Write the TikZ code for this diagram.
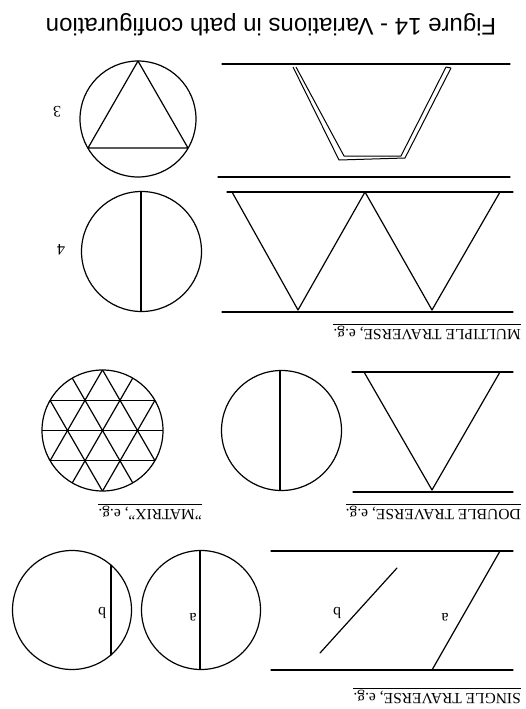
\documentclass[tikz,border=0pt]{standalone}
\usepackage{fontspec}
\setmainfont{Liberation Serif}
\newfontfamily\titlefont{Liberation Sans}

\tikzset{
  trav/.style={line width=1.2pt, line cap=round, line join=round},
  updown/.style={rotate=180, inner sep=0pt},
  caption/.style={updown, anchor=west, inner ysep=1.5pt, font=\fontsize{15.5}{16}\selectfont},
  tag/.style={updown, font=\fontsize{16}{16}\selectfont}
}

\begin{document}
\begin{tikzpicture}[x=1pt, y=-1pt]
    \useasboundingbox (0,0) rectangle (526,709);

    % title
    \node[updown, font=\titlefont\fontsize{24}{24}\selectfont] (title) at (271,25) {Figure 14 - Variations in path configuration};

    % multiple traverse, 3
    \draw[trav] (222,64) -- (510,64);
    \draw[trav] (218,177) -- (510,177);
    \draw[line width=1pt, line join=round] (293,67) -- (339,160) -- (405,158) -- (451,68);
    \draw[line width=1pt, line join=round] (296,67) -- (344,156) -- (401,156) -- (446,67);
    \draw[line width=1pt] (446,67) -- (451,68);
    \draw[trav] (138,119) circle (58);
    \draw[trav] (138,61) -- (88,148) -- (188,148) -- cycle;
    \node[tag] (three) at (57,112) {3};

    % multiple traverse, 4
    \draw[trav] (227,192) -- (513,192);
    \draw[trav] (222,312) -- (513,312);
    \draw[trav] (232,192) -- (298,310) -- (365,192) -- (432,310) -- (500,192);
    \draw[trav] (141.5,251.5) circle (60);
    \draw[trav] (141,191.5) -- (141,311.5);
    \node[tag] (four) at (61,250) {4};
    \node[caption] (multi) at (521,333) {MULTIPLE TRAVERSE, e.g.};
    \draw[line width=0.9pt] (multi.south west) -- (multi.south east);

    % double traverse
    \draw[trav] (352,372) -- (513,372);
    \draw[trav] (353,492) -- (513,492);
    \draw[trav] (364,372) -- (432,490) -- (500,372);
    \draw[trav] (281.5,430.5) circle (60);
    \draw[trav] (280,370.5) -- (280,490.5);
    \node[caption] (double) at (521,513) {DOUBLE TRAVERSE, e.g.};
    \draw[line width=0.9pt] (double.south west) -- (double.south east);

    % matrix
    \begin{scope}
      \clip (102.5,430.5) circle (60.5);
      \foreach \k in {-1,0,1}
        \draw[trav] (40,430.5+30.3*\k) -- (165,430.5+30.3*\k);
      \foreach \m in {-4,...,4} {
        \draw[trav] (102.5+35*\m,430.5) ++(-100*0.5,100*0.866) -- ++(200*0.5,-200*0.866);
        \draw[trav] (102.5+35*\m,430.5) ++(100*0.5,100*0.866) -- ++(-200*0.5,-200*0.866);
      }
    \end{scope}
    \draw[trav] (102.5,430.5) circle (60.5);
    \node[caption] (matrix) at (202,513) {"MATRIX", e.g.};
    \draw[line width=0.9pt] (matrix.south west) -- (matrix.south east);

    % single traverse
    \draw[trav] (271,551) -- (513,551);
    \draw[trav] (271,670) -- (513,670);
    \draw[trav] (500,551) -- (432,670);
    \draw[trav] (397,568) -- (320,653);
    \node[tag] (ta) at (445,617) {a};
    \node[tag] (tb) at (337,613) {b};
    \draw[trav] (201,610) circle (59.5);
    \draw[trav] (200,550.5) -- (200,669.5);
    \node[tag] (ca) at (193,617) {a};
    \draw[trav] (72,610) circle (59.5);
    \draw[trav] (111,565) -- (111,655);
    \node[tag] (cb) at (102,613) {b};
    \node[caption] (single) at (521,697) {SINGLE TRAVERSE, e.g.};
    \draw[line width=0.9pt] (single.south west) -- (single.south east);
\end{tikzpicture}
\end{document}
